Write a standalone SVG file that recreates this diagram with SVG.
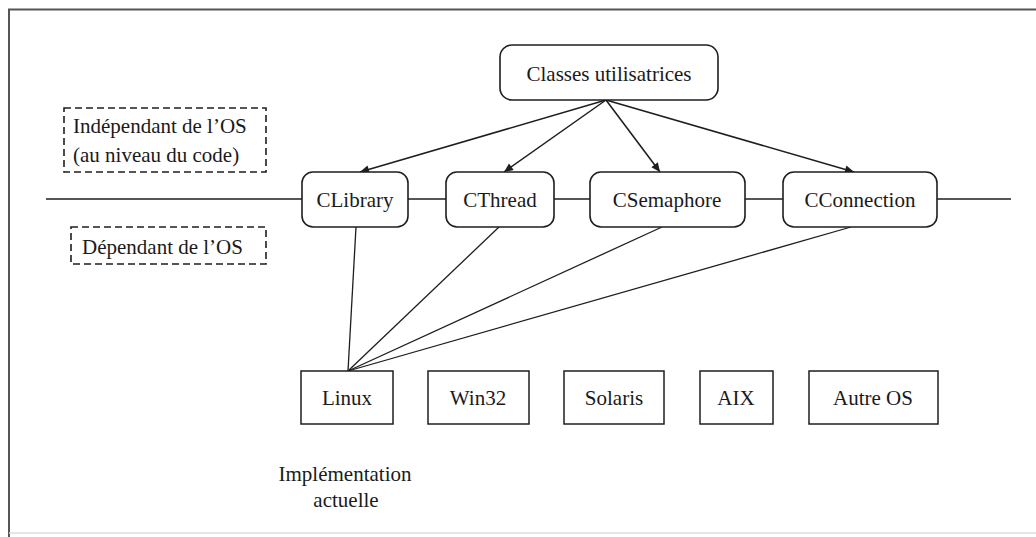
<svg xmlns="http://www.w3.org/2000/svg" width="1036" height="537" viewBox="0 0 1036 537">
<style>
text{font-family:'Liberation Serif','Times New Roman','DejaVu Serif',serif;font-size:21px;fill:#1a1a1a}
.c{text-anchor:middle}
.rb{fill:#fff;stroke:#1e1e1e;stroke-width:1.6}
.sb{fill:#fff;stroke:#1e1e1e;stroke-width:1.5}
.db{fill:none;stroke:#1e1e1e;stroke-width:1.6;stroke-dasharray:7 4}
.ln{stroke:#1e1e1e;stroke-width:1.3;fill:none}
.ar{stroke:#1e1e1e;stroke-width:1.5;fill:none;marker-end:url(#ah)}
</style>
<defs>
<marker id="ah" viewBox="0 0 10 10" refX="10" refY="5" markerWidth="12" markerHeight="9" markerUnits="userSpaceOnUse" orient="auto">
<path d="M0,0.5 L10,5 L0,9.5 z" fill="#1e1e1e"/>
</marker>
</defs>
<g id="frame">
<path d="M9,537 L9,9.5 L1036,9.5" fill="none" stroke="#555" stroke-width="2"/>
<line x1="9" y1="533" x2="1036" y2="533" stroke="#ddd" stroke-width="1.5"/>
</g>
<g id="connectors">
<line class="ln" x1="46" y1="199" x2="1011" y2="199"/>
<line class="ar" x1="606" y1="100" x2="360" y2="172"/>
<line class="ar" x1="606" y1="100" x2="504" y2="172"/>
<line class="ar" x1="606" y1="100" x2="660" y2="172"/>
<line class="ar" x1="606" y1="100" x2="854" y2="172"/>
<line class="ln" x1="348" y1="371" x2="356" y2="227"/>
<line class="ln" x1="348" y1="371" x2="499" y2="227"/>
<line class="ln" x1="348" y1="371" x2="662" y2="227"/>
<line class="ln" x1="348" y1="371" x2="851" y2="227"/>
</g>
<g id="classes">
<rect class="rb" x="500" y="45" width="218" height="55" rx="12"/>
<text class="c" x="609" y="81" font-family="Liberation Serif, serif">Classes utilisatrices</text>
</g>
<g id="independant">
<rect class="db" x="64" y="108" width="202" height="64"/>
<text x="73" y="133">Indépendant de l’OS</text>
<text x="73" y="162">(au niveau du code)</text>
</g>
<g id="dependant">
<rect class="db" x="71" y="227" width="195" height="37"/>
<text x="82" y="254">Dépendant de l’OS</text>
</g>
<g id="clibrary">
<rect class="rb" x="302" y="172" width="106" height="55" rx="11"/>
<text class="c" x="355" y="207">CLibrary</text>
</g>
<g id="cthread">
<rect class="rb" x="446" y="172" width="108" height="55" rx="11"/>
<text class="c" x="500" y="207">CThread</text>
</g>
<g id="csemaphore">
<rect class="rb" x="590" y="172" width="155" height="55" rx="11"/>
<text class="c" x="667" y="207">CSemaphore</text>
</g>
<g id="cconnection">
<rect class="rb" x="783" y="172" width="154" height="55" rx="11"/>
<text class="c" x="860" y="207">CConnection</text>
</g>
<g id="linux">
<rect class="sb" x="301" y="371" width="92" height="53"/>
<text class="c" x="347" y="405">Linux</text>
</g>
<g id="win32">
<rect class="sb" x="428" y="371" width="101" height="53"/>
<text class="c" x="478" y="405">Win32</text>
</g>
<g id="solaris">
<rect class="sb" x="564" y="371" width="100" height="53"/>
<text class="c" x="614" y="405">Solaris</text>
</g>
<g id="aix">
<rect class="sb" x="700" y="371" width="73" height="53"/>
<text class="c" x="736" y="405">AIX</text>
</g>
<g id="autre">
<rect class="sb" x="809" y="371" width="129" height="53"/>
<text class="c" x="873" y="405">Autre OS</text>
</g>
<g id="implementation">
<text class="c" x="345" y="481">Implémentation</text>
<text class="c" x="346" y="507">actuelle</text>
</g>
</svg>
